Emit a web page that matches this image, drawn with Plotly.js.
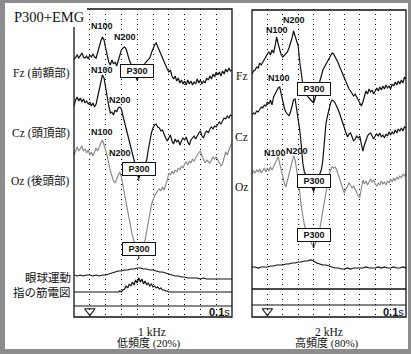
<!DOCTYPE html>
<html><head><meta charset="utf-8">
<script src="https://cdn.plot.ly/plotly-3.0.1.min.js"></script>
<style>html,body{margin:0;padding:0;background:#8c8c8c}#chart{width:411px;height:354px}</style>
</head><body><div id="chart"></div>
<script>
// ---- sample times (s), stimulus at 0 ----
const t = []; for (let i = 0; i <= 100; i++) t.push(+(-0.1 + i * 0.01).toFixed(2));
const tc = []; for (let i = 0; i <= 50; i++) tc.push(+(-0.1 + i * 0.02).toFixed(2));
const tf = [-0.1,0,0.1,0.2,0.3,0.4,0.5,0.6,0.7,0.8,0.9];

// ---- 1 kHz (low frequency, 20%) amplitudes, negative-up, arbitrary units ----
const fzLow = [0,3,5,2,4,7,3,2,4,1,
 5,3,6,3,2,8,14,19,23,20,
 12,4,-2,-5,0,-4,-2,-6,0,6,
 10,12,13,11,5,0,-4,-8,-12,-16,
 -20,-16,-12,-8,-6,-3,-1,0,2,7,
 12,15,17,13,9,5,1,-2,-6,-9,
 -12,-10,-16,-19,-16,-21,-18,-23,-20,-24,
 -21,-25,-20,-24,-21,-25,-22,-24,-19,-23,
 -20,-24,-21,-23,-18,-20,-16,-19,-14,-17,
 -12,-15,-12,-16,-11,-14,-9,-12,-8,-11,
 -10];
const czLow = [-3,3,6,2,5,1,4,0,2,-1,
 1,-3,0,-4,-1,7,15,23,28,25,
 15,5,-3,-10,-9,-12,-7,-9,-5,-4,
 -6,-13,-19,-25,-31,-37,-43,-49,-57,-65,
 -72,-75,-71,-67,-63,-59,-57,-47,-37,-30,
 -25,-22,-21,-24,-25,-28,-27,-32,-35,-38,
 -34,-32,-38,-41,-36,-39,-37,-42,-38,-35,
 -37,-34,-39,-42,-37,-35,-33,-36,-32,-30,
 -28,-33,-35,-30,-28,-30,-26,-24,-26,-23,
 -24,-22,-19,-21,-17,-15,-16,-13,-15,-12,
 -13];
const ozLow = [-3,2,5,1,4,6,1,3,-1,2,
 -3,0,-4,1,4,1,6,9,12,8,
 2,-4,-12,-19,-24,-29,-31,-26,-23,-20,
 -25,-34,-43,-50,-58,-68,-76,-84,-89,-94,
 -98,-100,-99,-97,-94,-88,-79,-68,-59,-53,
 -48,-44,-41,-39,-37,-39,-35,-38,-34,-28,
 -21,-23,-19,-22,-18,-20,-16,-18,-14,-16,
 -12,-10,-13,-9,-11,-7,-9,-5,-3,-1,
 1,-4,-8,-11,-8,-10,-11,-8,-5,-7,
 -5,-8,-11,-14,-12,-6,0,-3,2,6,
 9];
const eyeLow = [1,0,1,0,1,1,0,1,0,1,
 1,2,3,4,5,5,6,6,7,7,
 8,8,7,7,6,6,5,4,4,3,
 2,1,0,0,-1,-1,-2,-2,-2,-2,
 -3,-2,-3,-3,-3,-3,-3,-3,-3,-3,
 -3];
const emgLow = [0,0,0,0,0,0,0,0,0,0,
 0,0,0,0,0,0,0,0,0,0,
 0,0,0,0,0,0,0,0,0,1,
 0,2,3,6,4,8,6,10,7,12,
 9,14,10,13,8,11,7,9,6,8,
 5,6,4,5,3,4,2,2,1,1,
 0,0,0,0,0,0,0,0,0,0,
 0,0,0,0,0,0,0,0,0,0,
 0,0,0,0,0,0,0,0,0,0,
 0,0,0,0,0,0,0,0,0,0,
 0];

// ---- 2 kHz (high frequency, 80%) ----
const fzHigh = [-2,1,2,5,4,9,7,10,12,15,
 18,20,17,22,19,26,35,28,22,17,
 15,17,19,20,24,28,34,41,36,30,
 26,10,-3,-12,-18,-22,-24,-26,-28,-30,
 -31,-26,-21,-16,-11,-4,2,5,7,10,
 14,16,19,18,15,13,9,5,1,-3,
 -7,-11,-14,-17,-19,-21,-24,-22,-25,-27,
 -31,-34,-30,-24,-19,-22,-17,-20,-18,-22,
 -19,-16,-19,-15,-18,-14,-17,-13,-16,-14,
 -17,-12,-14,-10,-13,-9,-12,-8,-11,-5,
 -7];
const czHigh = [-3,-1,-2,1,0,3,5,4,7,6,
 10,8,12,7,15,18,21,24,25,17,
 10,4,0,-2,-4,0,7,12,13,4,
 -8,-18,-33,-51,-60,-64,-66,-68,-71,-76,
 -79,-74,-70,-66,-63,-58,-48,-26,-12,-4,
 4,9,12,11,9,6,2,-2,-6,-10,
 -16,-21,-25,-22,-21,-25,-29,-27,-24,-26,
 -24,-32,-39,-33,-28,-24,-22,-21,-24,-27,
 -24,-22,-24,-21,-25,-23,-26,-22,-24,-20,
 -23,-20,-22,-18,-21,-17,-19,-16,-19,-15,
 -16];
const ozHigh = [-2,1,-1,2,0,3,-1,1,4,0,
 4,1,5,2,6,8,12,15,8,2,
 -4,-11,-15,-8,-2,4,10,16,12,2,
 -8,-20,-34,-45,-53,-58,-62,-66,-70,-74,
 -76,-72,-68,-64,-57,-48,-37,-28,-19,-11,
 -3,2,5,4,5,2,-2,-6,-12,-17,
 -21,-17,-13,-11,-13,-16,-14,-17,-20,-24,
 -25,-16,-8,-12,-9,-13,-10,-7,-10,-8,
 -12,-14,-11,-13,-9,-12,-10,-13,-9,-11,
 -7,-10,-6,-9,-5,-7,-4,-6,-2,-4,
 -1];
const eyeHigh = [1,1,0,1,1,1,2,2,3,3,
 3,4,4,5,5,6,6,7,7,8,
 7,5,4,3,3,2,1,0,0,-1,
 -1,0,-1,0,0,0,0,1,0,0,
 0,1,0,1,0,0,1,0,0,1,
 0];
const emgHigh = [0,0,0,0,0,0,0,0,0,0,0];

// ---- text ----
const chanLabels = ['Fz (前額部)', 'Cz (頭頂部)', 'Oz (後頭部)'];
const chanShort = ['Fz', 'Cz', 'Oz'];
const auxLabels = ['眼球運動', '指の筋電図'];
const condFreq = ['1 kHz', '2 kHz'];
const condProb = ['低頻度 (20%)', '高頻度 (80%)'];
const peakN100 = [0.08, 0.065], peakN200 = [0.21, 0.17], peakP300 = [0.30, 0.30];

// ---- layout helpers (positions only) ----
const W = 411, H = 354;
const X = p => p / W, Y = p => 1 - p / H;
const SERIF = '"Liberation Serif", "Noto Sans CJK JP", serif';
const SANS = '"Liberation Sans", Arial, sans-serif';
const base = {
  low:  {fz: 60, cz: 103, oz: 152, eye: 276, emg: 292},
  high: {fz: 72, cz: 112, oz: 172, eye: 268, emg: 289}
};
const off = (arr, b) => arr.map(v => b - v);
const BLACK = '#111', GRAY = '#858585';

function line(xa, xs, ys, color, w) {
  return {type: 'scatter', mode: 'lines', x: xs, y: ys, xaxis: xa, yaxis: 'y',
          line: {color: color, width: w, shape: 'linear'}, hoverinfo: 'skip', showlegend: false};
}
const traces = [
  line('x', t, off(fzLow, base.low.fz), BLACK, 1.2),
  line('x', t, off(czLow, base.low.cz), BLACK, 1.2),
  line('x', t, off(ozLow, base.low.oz), GRAY, 1.1),
  line('x', tc, off(eyeLow, base.low.eye), BLACK, 1.1),
  line('x', t, off(emgLow, base.low.emg), BLACK, 1.2),
  line('x2', t, off(fzHigh, base.high.fz), BLACK, 1.2),
  line('x2', t, off(czHigh, base.high.cz), BLACK, 1.2),
  line('x2', t, off(ozHigh, base.high.oz), GRAY, 1.1),
  line('x2', tc, off(eyeHigh, base.high.eye), BLACK, 1.2),
  line('x2', tf, off(emgHigh, base.high.emg), BLACK, 1.6)
];
// stimulus markers
['x', 'x2'].forEach(xa => traces.push({type: 'scatter', mode: 'markers', x: [0], y: [311], xaxis: xa, yaxis: 'y',
  marker: {symbol: 'triangle-down-open', size: 9, color: BLACK, line: {width: 1.1, color: BLACK}},
  hoverinfo: 'skip', showlegend: false}));

const xax = dom => ({domain: dom, range: [-0.1, 0.9], showgrid: true, tick0: 0, dtick: 0.1,
  gridcolor: '#000', gridwidth: 1, griddash: '1px,4px', zeroline: false, showline: false,
  showticklabels: false, ticks: '', fixedrange: true});

const shapes = [
  {type: 'rect', xref: 'paper', yref: 'paper', x0: X(5), x1: X(408), y0: Y(349), y1: Y(3),
   fillcolor: '#ffffff', line: {width: 0}, layer: 'below'},
  {type: 'path', xref: 'paper', yref: 'paper',
   path: `M${X(87)},${Y(9)} L${X(232)},${Y(9)} L${X(232)},${Y(317)} L${X(74)},${Y(317)} L${X(74)},${Y(27)}`,
   line: {color: BLACK, width: 1.3}},
  {type: 'rect', xref: 'paper', yref: 'paper', x0: X(252), x1: X(406), y0: Y(317), y1: Y(10),
   line: {color: BLACK, width: 1.3}},
  {type: 'line', xref: 'paper', yref: 'paper', x0: X(74), x1: X(232), y0: Y(306), y1: Y(306), line: {color: BLACK, width: 1.2}},
  {type: 'line', xref: 'paper', yref: 'paper', x0: X(252), x1: X(406), y0: Y(305), y1: Y(305), line: {color: BLACK, width: 1.2}}
];

const ann = [];
const txt = (text, px, py, anchor, size, fam, extra) => ann.push(Object.assign({
  text: text, xref: 'paper', yref: 'paper', x: X(px), y: Y(py), xanchor: anchor, yanchor: 'middle',
  showarrow: false, font: {family: fam, size: size, color: BLACK}}, extra || {}));

txt('P300+EMG', 12, 17, 'left', 14.5, SERIF);
[73, 133, 181].forEach((py, i) => txt(chanLabels[i], 72, py, 'right', 11.5, SERIF));
[76, 137, 187].forEach((py, i) => txt(chanShort[i], 250, py, 'right', 11.5, SERIF));
txt(auxLabels[0], 73, 277, 'right', 11.5, SERIF);
txt(auxLabels[1], 73, 292, 'right', 11.5, SERIF);
txt(condFreq[0], 152, 332, 'center', 11.5, SERIF);
txt(condProb[0], 149, 343, 'center', 11, SERIF);
txt(condFreq[1], 329, 332, 'center', 11.5, SERIF);
txt(condProb[1], 327, 343, 'center', 11, SERIF);
txt('<b>0.1</b>s', 232, 312, 'right', 11, SANS);
txt('<b>0.1</b>s', 406, 312, 'right', 11, SANS);

// peak labels (data coordinates)
const nlab = (xa, text, x, y) => ann.push({text: '<b>' + text + '</b>', xref: xa, yref: 'y', x: x, y: y,
  showarrow: false, xanchor: 'center', yanchor: 'middle', font: {family: SANS, size: 9, color: BLACK}});
nlab('x', 'N100', peakN100[0], 26);  nlab('x', 'N200', peakN200[0] + 0.01, 37);
nlab('x', 'N100', peakN100[0], 70);  nlab('x', 'N200', peakN200[0] - 0.02, 100);
nlab('x', 'N100', peakN100[0], 132); nlab('x', 'N200', peakN200[0] - 0.02, 153);
nlab('x2', 'N100', peakN100[1], 30); nlab('x2', 'N200', peakN200[1], 20);
nlab('x2', 'N100', peakN100[1] + 0.01, 78);
nlab('x2', 'N100', peakN100[1] - 0.013, 153); nlab('x2', 'N200', peakN200[1] + 0.02, 151);

const pbox = (xa, x, tip, ay) => ann.push({text: '<b>P300</b>', xref: xa, yref: 'y', x: x, y: tip,
  showarrow: true, arrowhead: 0, arrowwidth: 1, arrowcolor: BLACK, ax: 0, ay: ay,
  bgcolor: '#ffffff', bordercolor: BLACK, borderwidth: 1, borderpad: 1, width: 30, height: 10,
  font: {family: SANS, size: 9, color: BLACK}});
pbox('x', peakP300[0], 81, -10);
pbox('x', peakP300[0] + 0.01, 181, -12);
pbox('x', peakP300[0] + 0.01, 259, -10);
pbox('x2', peakP300[1], 103, -14);
pbox('x2', peakP300[1], 193, -12);
pbox('x2', peakP300[1], 248, -13);

const layout = {
  width: W, height: H, autosize: false, margin: {l: 0, r: 0, t: 0, b: 0},
  paper_bgcolor: '#8c8c8c', plot_bgcolor: 'rgba(0,0,0,0)', showlegend: false,
  xaxis: xax([74 / W, 232 / W]),
  xaxis2: Object.assign(xax([252 / W, 406 / W]), {anchor: 'y'}),
  yaxis: {domain: [(H - 317) / H, (H - 9) / H], range: [317, 9], showgrid: false, zeroline: false,
          showticklabels: false, ticks: '', showline: false, fixedrange: true},
  shapes: shapes, annotations: ann
};
Plotly.newPlot('chart', traces, layout, {staticPlot: true, displayModeBar: false});
</script></body></html>
